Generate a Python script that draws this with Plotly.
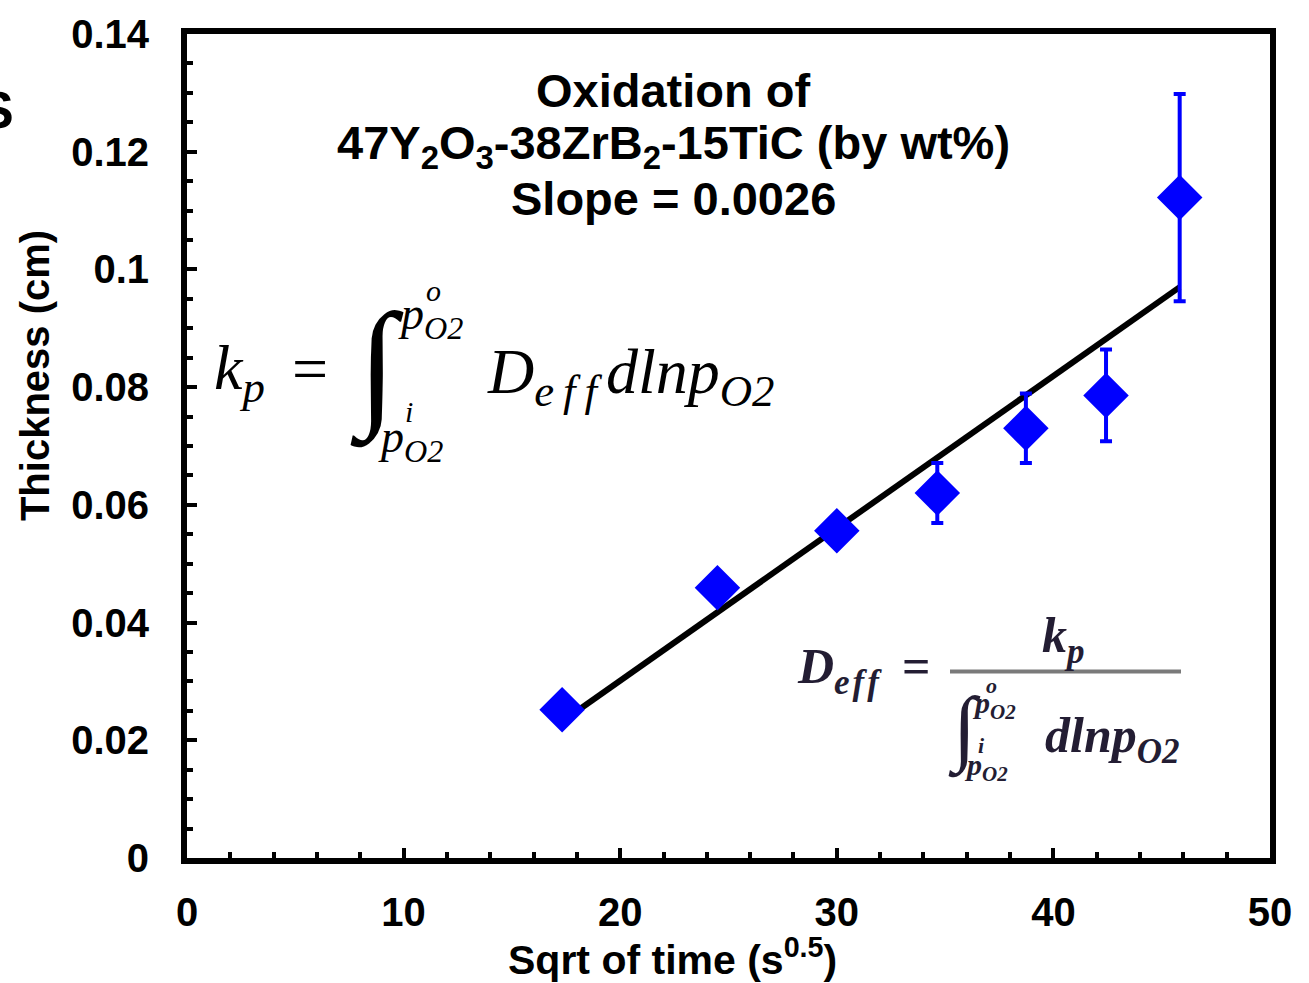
import plotly.graph_objects as go

# data
sqrt_t = [17.32, 24.49, 30.0, 34.64, 38.73, 42.43, 45.83]
thickness = [0.0252, 0.0459, 0.0556, 0.0620, 0.0730, 0.0786, 0.1122]
thick_err = [0.002, 0.002, 0.002, 0.0051, 0.0059, 0.0078, 0.0176]

fit_x = [17.32, 45.83]
fit_y = [0.0232, 0.0970]

y_tickvals = [0, 0.02, 0.04, 0.06, 0.08, 0.1, 0.12, 0.14]
y_ticktext = ["0", "0.02", "0.04", "0.06", "0.08", "0.1", "0.12", "0.14"]
x_tickvals = [0, 10, 20, 30, 40, 50]
x_ticktext = ["0", "10", "20", "30", "40", "50"]

W, H = 1309, 983
L, R, T, B = 187, 1270, 27, 858


def px(x, y):
    """pixel position -> paper coords"""
    return (x - L) / (R - L), (B - y) / (B - T)


SANS = "Liberation Sans"
SERIF = "Liberation Serif"

fig = go.Figure()

fig.add_trace(go.Scatter(x=fit_x, y=fit_y, mode="lines",
                         line=dict(color="black", width=6), hoverinfo="skip"))
fig.add_trace(go.Scatter(
    x=sqrt_t, y=thickness, mode="markers",
    marker=dict(symbol="diamond", size=35, color="#0000FF"),
    error_y=dict(type="data", array=thick_err, color="#0000FF", thickness=4, width=6),
))

ann = []


def text(x, y, s, size, family=SANS, weight="normal", style="normal",
         color="black", xanchor="center", angle=0):
    xp, yp = px(x, y)
    ann.append(dict(xref="paper", yref="paper", x=xp, y=yp, text=s, showarrow=False,
                    xanchor=xanchor, yanchor="middle", textangle=angle,
                    font=dict(family=family, size=size, weight=weight, style=style,
                              color=color)))


# titles inside the plot
text(673, 84, "Oxidation of", 47, weight="bold")
text(673, 140, "47Y<sub>2</sub>O<sub>3</sub>-38ZrB<sub>2</sub>-15TiC (by wt%)", 47, weight="bold")
text(673, 193, "Slope = 0.0026", 47, weight="bold")

# axis titles
text(35, 372, "Thickness (cm)", 40, weight="bold", angle=-90)
text(672, 958, "Sqrt of time (s<sup>0.5</sup>)", 41, weight="bold")
# clipped glyph at the far left edge
text(16, 104, "S", 52, weight="bold", xanchor="right")

# equation 1
IT = dict(family=SERIF, style="italic")
text(212, 368, "k<sub>p</sub>", 64, xanchor="left", **IT)
text(290, 364, "=", 64, family=SERIF, xanchor="left")
text(348, 362, "∫", 140, family=SERIF, xanchor="left")
text(396, 312, "p<sub>O2</sub>", 46, xanchor="left", **IT)
text(424, 286, "o", 30, xanchor="left", **IT)
text(376, 436, "p<sub>O2</sub>", 46, xanchor="left", **IT)
text(403, 408, "i", 30, xanchor="left", **IT)
text(485, 372, "D<sub>e\u2009f\u2009f\u2009</sub>dlnp<sub>O2</sub>", 64, xanchor="left", **IT)

# equation 2
EQC = "#231d33"
BI = dict(family=SERIF, style="italic", weight="bold", color=EQC)
text(795, 668, "D<sub>e\u200af\u200af</sub>", 50, xanchor="left", **BI)
text(900, 664, "=", 50, family=SERIF, weight="bold", color=EQC, xanchor="left")
text(1063, 637, "k<sub>p</sub>", 50, **BI)
text(946, 728, "∫", 84, family=SERIF, color=EQC, xanchor="left")
text(970, 704, "p<sub>O2</sub>", 30, xanchor="left", **BI)
text(984, 684, "o", 22, xanchor="left", **BI)
text(962, 766, "p<sub>O2</sub>", 30, xanchor="left", **BI)
text(976, 745, "i", 22, xanchor="left", **BI)
text(1043, 738, "dlnp<sub>O2</sub>", 50, xanchor="left", **BI)

x0, y0 = px(950, 670)
x1, _ = px(1181, 670)
fig.add_shape(type="line", xref="paper", yref="paper", x0=x0, x1=x1, y0=y0, y1=y0,
              line=dict(color="#7a7a7a", width=4))

tickfont = dict(family=SANS, size=40, weight="bold", color="black")
fig.update_xaxes(range=[0, 50], tickvals=x_tickvals, ticktext=x_ticktext,
                 ticks="inside", ticklen=10, tickwidth=4, tickcolor="black",
                 minor=dict(dtick=2, ticks="inside", ticklen=6, tickwidth=4, tickcolor="black"),
                 showline=True, linewidth=6, linecolor="black", mirror=True,
                 showgrid=False, zeroline=False, tickfont=tickfont, ticklabelstandoff=14)
fig.update_yaxes(range=[0, 0.14], tickvals=y_tickvals, ticktext=y_ticktext,
                 ticks="inside", ticklen=10, tickwidth=4, tickcolor="black",
                 minor=dict(dtick=0.005, ticks="inside", ticklen=6, tickwidth=4, tickcolor="black"),
                 showline=True, linewidth=6, linecolor="black", mirror=True,
                 showgrid=False, zeroline=False, tickfont=tickfont, ticklabelstandoff=24)

fig.update_layout(
    width=W, height=H,
    margin=dict(l=L, r=W - R, t=T, b=H - B),
    paper_bgcolor="white", plot_bgcolor="white",
    showlegend=False, annotations=ann,
)

fig.write_html("out.html", config={"displayModeBar": False},
               post_script="document.body.style.margin='0';")
